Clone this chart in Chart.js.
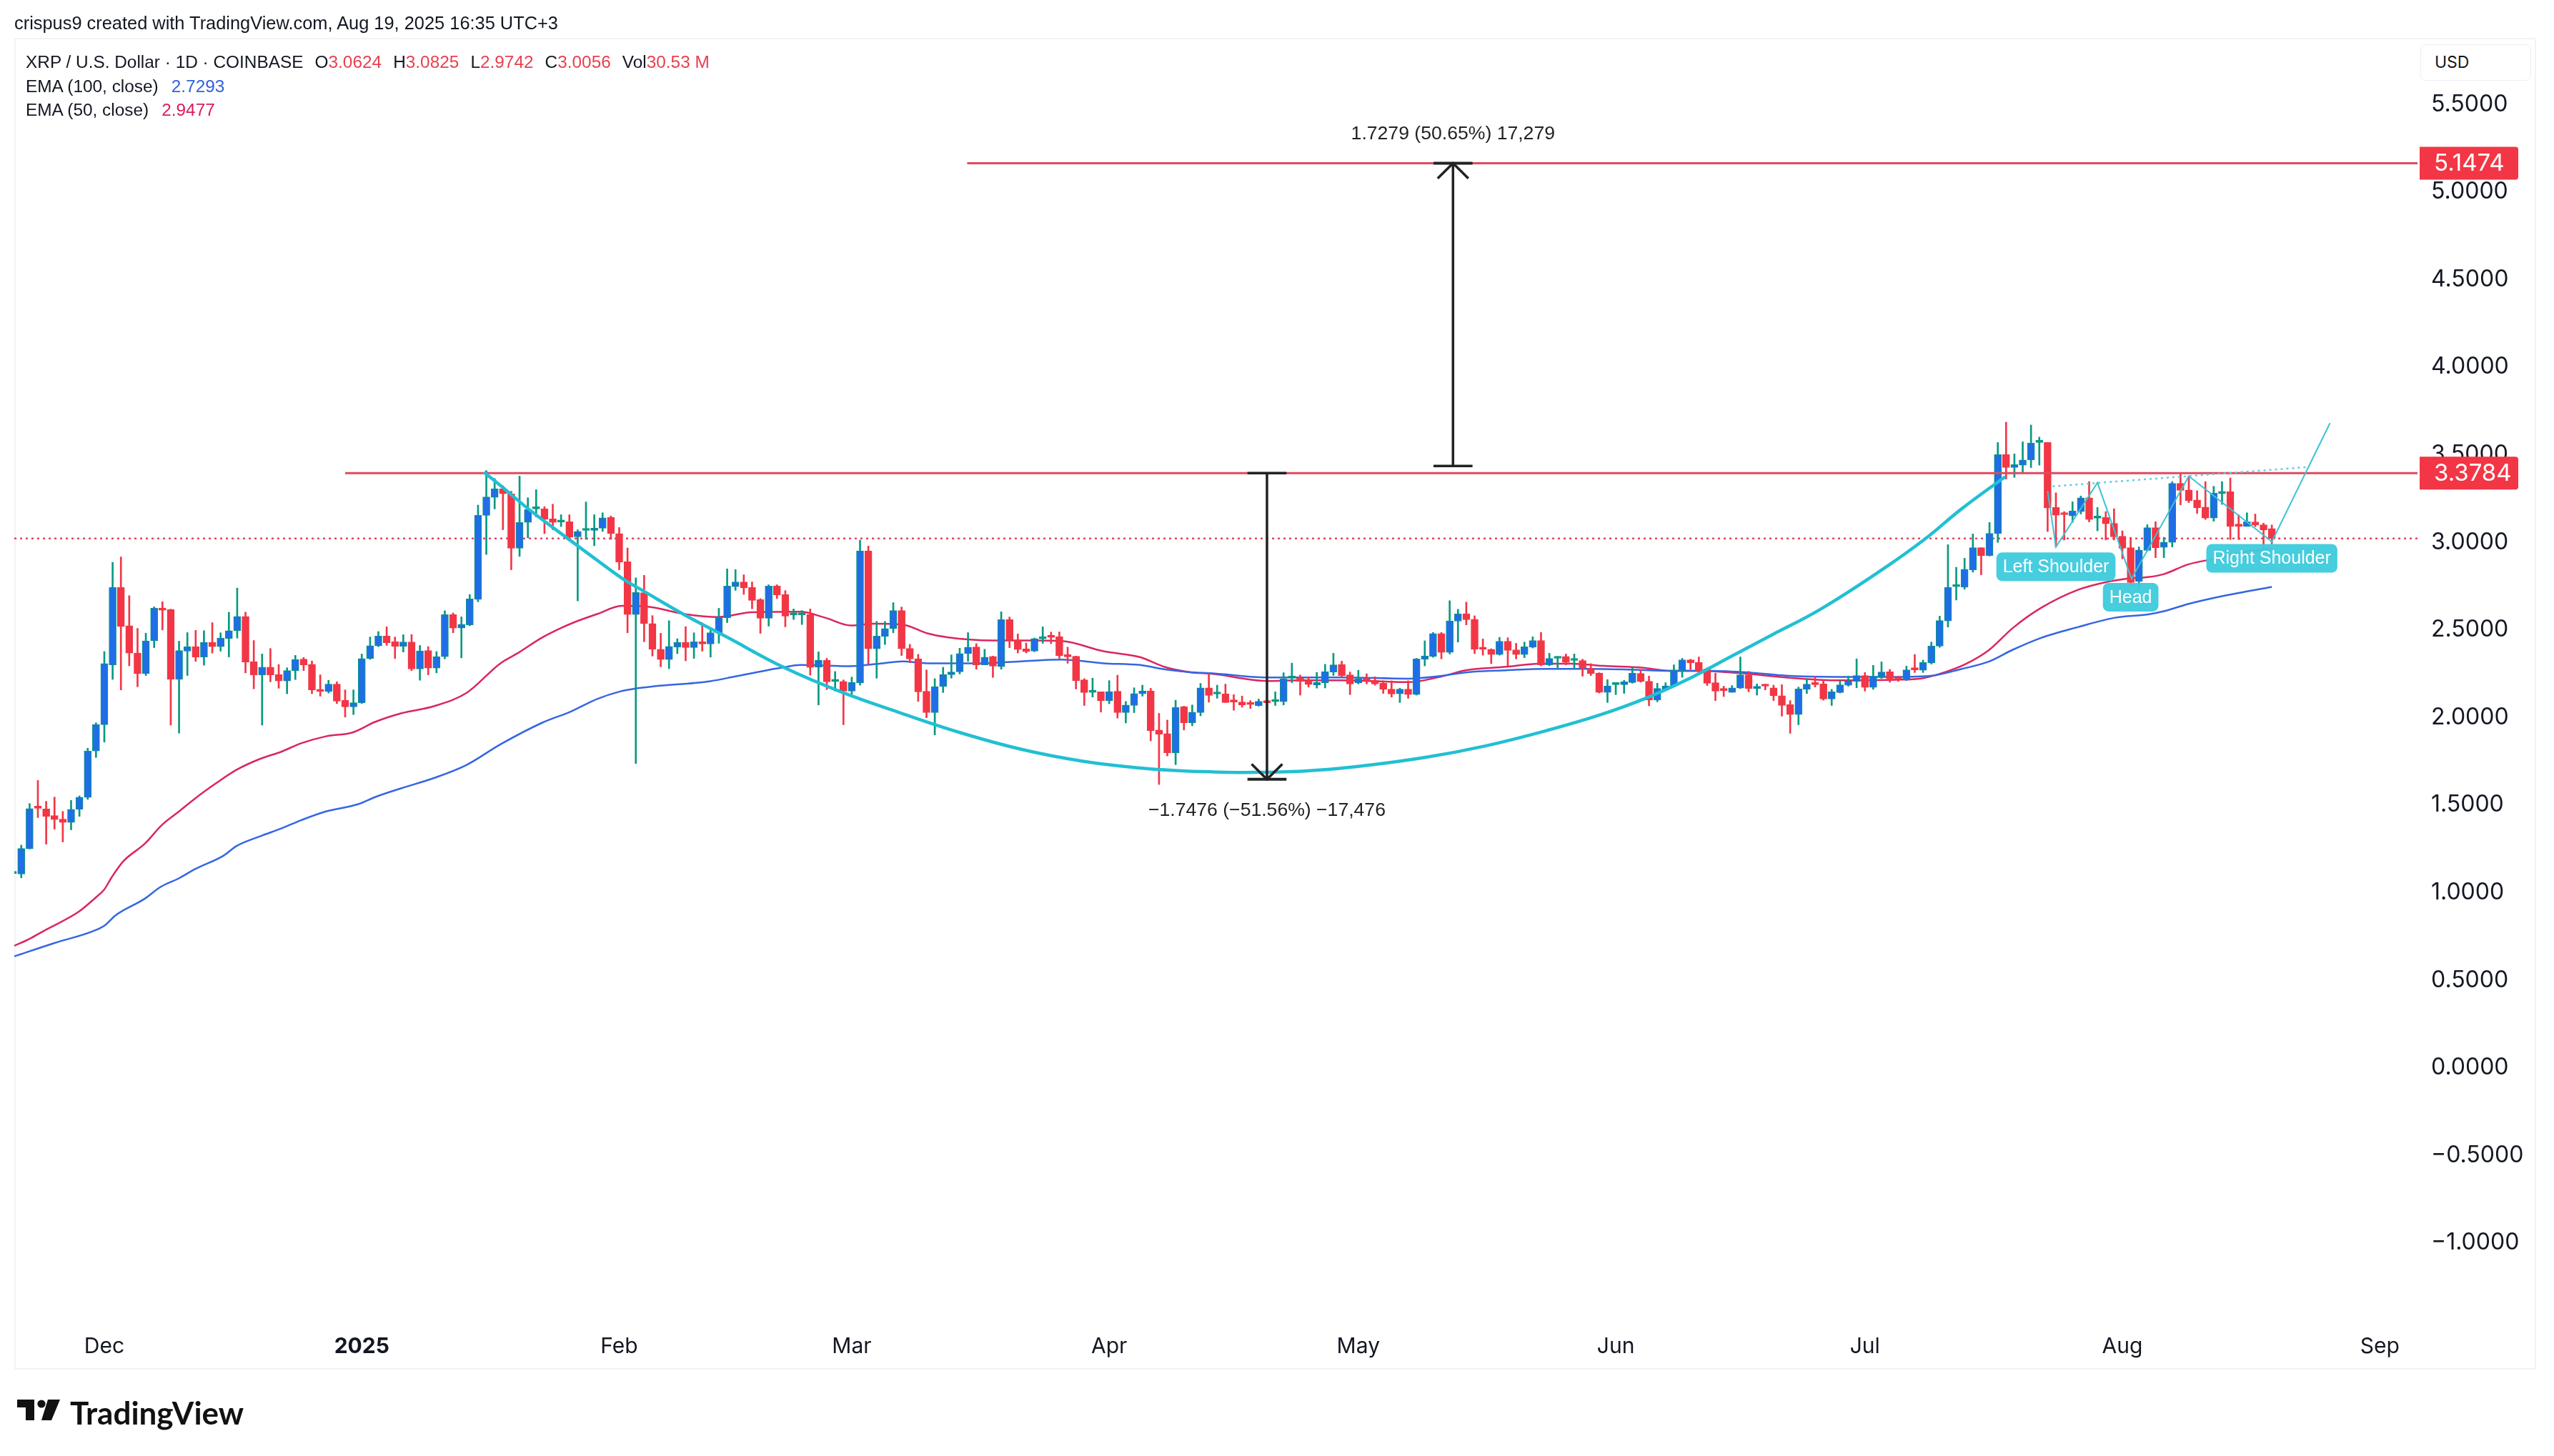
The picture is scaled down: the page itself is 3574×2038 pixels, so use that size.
<!DOCTYPE html>
<html>
<head>
<meta charset="utf-8">
<title>XRP / U.S. Dollar</title>
<script src="https://cdn.jsdelivr.net/npm/chart.js@4/dist/chart.umd.min.js"></script>
<style>
  html, body { margin: 0; padding: 0; background: #fff; }
  #page { position: relative; width: 3574px; height: 2038px; overflow: hidden; font-family: "Liberation Sans", sans-serif; color: #131722; }
  #frame { position: absolute; left: 20px; top: 53px; width: 3529px; height: 1864px; border: 2px solid #f2f3f5; box-sizing: border-box; }
  #wrap { position: absolute; left: 0; top: 0; width: 3574px; height: 2038px; }
  .row { position: absolute; white-space: nowrap; font-size: 24.4px; line-height: 30px; }
  .row b { font-weight: normal; color: #e8404f; }
  .gap { margin-left: 16px; }
  #usd { position: absolute; left: 3387px; top: 62px; width: 155px; height: 51px; border: 1px solid #eceef2; border-radius: 8px; box-sizing: border-box; font: 23px/49px Inter, sans-serif; padding-left: 19px; background: #fff; }
  #brand { position: absolute; left: 98px; top: 1952px; font: bold 44px/50px Lato, sans-serif; letter-spacing: 0; color: #111; }
  #mark { position: absolute; left: 24px; top: 1959px; }
</style>
</head>
<body>
<div id="page">
  <div id="frame"></div>
  <div id="wrap"><canvas id="chart"></canvas></div>
  <div class="row" style="left:20px;top:17px;font-size:25.4px">crispus9 created with TradingView.com, Aug 19, 2025 16:35 UTC+3</div>
  <div class="row" style="left:36px;top:72px">XRP / U.S. Dollar · 1D · COINBASE<span class="gap">O<b>3.0624</b></span><span class="gap">H<b>3.0825</b></span><span class="gap">L<b>2.9742</b></span><span class="gap">C<b>3.0056</b></span><span class="gap">Vol<b>30.53 M</b></span></div>
  <div class="row" style="left:36px;top:106px">EMA (100, close)<span class="gap" style="color:#2f62e0;margin-left:18px">2.7293</span></div>
  <div class="row" style="left:36px;top:139px">EMA (50, close)<span class="gap" style="color:#d81e5b;margin-left:18px">2.9477</span></div>
  <div id="usd">USD</div>
  <svg id="mark" width="60" height="29" viewBox="0 0 60 29"><path d="M0 0H24V29H12V11H0Z M43 0H60L48 29H34Z" fill="#111"/><circle cx="34" cy="6" r="5.6" fill="#111"/></svg>
  <div id="brand">TradingView</div>
</div>

<script>
// Daily candles, index 0 = Nov 20 2024, last = Aug 19 2025
const opens = [
    1.093,1.090,1.233,1.467,1.461,1.423,1.403,1.384,1.459,1.527,
    1.792,1.942,2.284,2.726,2.507,2.351,2.234,2.421,2.605,2.600,
    2.201,2.362,2.388,2.329,2.413,2.388,2.435,2.479,2.560,2.302,
    2.227,2.271,2.229,2.192,2.251,2.317,2.287,2.143,2.132,2.174,
    2.081,2.044,2.068,2.320,2.392,2.448,2.417,2.390,2.415,2.260,
    2.366,2.265,2.331,2.571,2.494,2.512,2.658,3.137,3.240,3.289,
    3.260,2.949,3.097,3.174,3.174,3.117,3.099,3.101,3.015,3.051,
    3.051,3.064,3.125,3.033,2.872,2.571,2.696,2.520,2.373,2.314,
    2.386,2.413,2.383,2.416,2.403,2.467,2.553,2.730,2.757,2.726,
    2.656,2.550,2.734,2.685,2.569,2.569,2.572,2.270,2.311,2.189,
    2.189,2.134,2.182,2.935,2.375,2.446,2.491,2.594,2.378,2.319,
    2.133,2.011,2.160,2.228,2.244,2.348,2.386,2.284,2.332,2.273,
    2.542,2.426,2.375,2.362,2.433,2.448,2.444,2.340,2.333,2.198,
    2.127,2.130,2.079,2.133,2.011,2.052,2.119,2.135,1.912,1.891,
    1.782,2.045,1.953,2.011,2.153,2.117,2.118,2.076,2.072,2.061,
    2.051,2.076,2.074,2.074,2.208,2.208,2.196,2.168,2.182,2.243,
    2.286,2.227,2.181,2.207,2.196,2.179,2.145,2.119,2.145,2.114,
    2.316,2.332,2.462,2.355,2.533,2.576,2.544,2.378,2.373,2.343,
    2.419,2.370,2.343,2.385,2.423,2.284,2.321,2.332,2.309,2.309,
    2.264,2.237,2.127,2.171,2.171,2.183,2.235,2.190,2.083,2.145,
    2.164,2.253,2.313,2.297,2.261,2.182,2.141,2.127,2.151,2.227,
    2.148,2.166,2.153,2.108,2.057,2.000,2.144,2.181,2.175,2.089,
    2.126,2.167,2.189,2.223,2.155,2.216,2.244,2.208,2.199,2.260,
    2.253,2.295,2.391,2.535,2.730,2.727,2.826,2.953,2.908,3.033,
    3.484,3.410,3.424,3.454,3.553,3.553,3.182,3.145,3.134,3.159,
    3.237,3.121,3.125,3.092,3.018,2.953,2.761,2.937,3.067,2.955,
    2.983,3.320,3.282,3.225,3.184,3.122,3.262,3.273,3.079,3.074,
    3.100,3.083,3.0624
];
const closes = [
    1.095,1.236,1.463,1.465,1.419,1.401,1.384,1.459,1.529,1.792,
    1.944,2.291,2.726,2.503,2.351,2.234,2.421,2.607,2.596,2.201,
    2.366,2.388,2.329,2.413,2.388,2.437,2.479,2.560,2.300,2.227,
    2.271,2.227,2.192,2.251,2.315,2.284,2.141,2.132,2.174,2.077,
    2.044,2.068,2.320,2.393,2.448,2.410,2.390,2.415,2.260,2.364,
    2.265,2.331,2.571,2.494,2.516,2.660,3.137,3.242,3.289,3.260,
    2.949,3.097,3.170,3.181,3.115,3.097,3.104,3.013,3.046,3.055,
    3.064,3.123,3.033,2.870,2.571,2.697,2.519,2.373,2.314,2.389,
    2.413,2.383,2.416,2.403,2.468,2.553,2.734,2.757,2.723,2.652,
    2.550,2.734,2.682,2.562,2.573,2.572,2.269,2.311,2.187,2.193,
    2.134,2.184,2.935,2.375,2.448,2.491,2.594,2.375,2.317,2.130,
    2.011,2.160,2.229,2.243,2.348,2.385,2.284,2.328,2.277,2.542,
    2.423,2.371,2.359,2.434,2.444,2.441,2.337,2.330,2.194,2.126,
    2.131,2.079,2.131,2.011,2.055,2.120,2.135,1.907,1.888,1.782,
    2.041,1.953,2.014,2.153,2.109,2.121,2.069,2.072,2.055,2.057,
    2.076,2.068,2.080,2.203,2.212,2.189,2.172,2.183,2.245,2.284,
    2.223,2.175,2.203,2.193,2.175,2.144,2.118,2.145,2.114,2.318,
    2.335,2.462,2.355,2.535,2.575,2.542,2.373,2.373,2.343,2.419,
    2.366,2.343,2.387,2.423,2.284,2.321,2.332,2.298,2.313,2.264,
    2.234,2.127,2.164,2.175,2.187,2.237,2.189,2.083,2.149,2.164,
    2.253,2.313,2.295,2.250,2.179,2.134,2.137,2.153,2.227,2.148,
    2.162,2.162,2.107,2.052,2.000,2.146,2.174,2.171,2.089,2.130,
    2.170,2.192,2.223,2.155,2.219,2.243,2.203,2.203,2.256,2.255,
    2.297,2.392,2.537,2.727,2.734,2.830,2.953,2.908,3.034,3.484,
    3.410,3.427,3.454,3.550,3.557,3.180,3.138,3.141,3.163,3.237,
    3.114,3.125,3.089,3.015,2.950,2.754,2.940,3.067,2.953,2.985,
    3.320,3.280,3.221,3.180,3.122,3.265,3.273,3.074,3.075,3.101,
    3.082,3.053,3.0056
];
const highs = [
    1.100,1.255,1.492,1.624,1.505,1.529,1.447,1.510,1.536,1.808,
    1.953,2.360,2.869,2.900,2.679,2.492,2.465,2.615,2.644,2.602,
    2.419,2.468,2.481,2.479,2.525,2.467,2.584,2.722,2.585,2.423,
    2.346,2.377,2.286,2.267,2.338,2.326,2.306,2.227,2.196,2.187,
    2.141,2.141,2.346,2.443,2.474,2.501,2.443,2.456,2.457,2.395,
    2.388,2.360,2.593,2.580,2.558,2.686,3.196,3.393,3.348,3.306,
    3.275,3.362,3.238,3.284,3.187,3.201,3.141,3.141,3.055,3.214,
    3.141,3.152,3.134,3.068,2.951,2.781,2.795,2.565,2.464,2.536,
    2.433,2.502,2.467,2.523,2.491,2.607,2.832,2.828,2.798,2.757,
    2.662,2.741,2.741,2.708,2.603,2.594,2.603,2.358,2.321,2.246,
    2.198,2.214,2.996,2.962,2.532,2.532,2.639,2.614,2.401,2.344,
    2.255,2.205,2.270,2.341,2.379,2.468,2.405,2.373,2.334,2.587,
    2.557,2.460,2.409,2.437,2.501,2.471,2.472,2.385,2.334,2.205,
    2.208,2.130,2.194,2.225,2.075,2.153,2.168,2.150,2.007,1.969,
    2.082,2.048,2.055,2.178,2.236,2.168,2.174,2.114,2.106,2.080,
    2.089,2.087,2.130,2.239,2.294,2.226,2.216,2.241,2.287,2.350,
    2.305,2.243,2.253,2.233,2.216,2.193,2.193,2.151,2.193,2.321,
    2.421,2.469,2.469,2.650,2.601,2.642,2.564,2.432,2.376,2.441,
    2.439,2.407,2.414,2.444,2.469,2.350,2.332,2.346,2.346,2.316,
    2.291,2.239,2.200,2.179,2.196,2.271,2.257,2.220,2.179,2.182,
    2.284,2.321,2.316,2.329,2.267,2.237,2.162,2.166,2.329,2.247,
    2.175,2.175,2.168,2.171,2.080,2.157,2.205,2.219,2.199,2.144,
    2.192,2.219,2.318,2.240,2.281,2.301,2.258,2.219,2.277,2.343,
    2.311,2.414,2.562,2.970,2.841,2.892,3.031,2.953,3.097,3.553,
    3.669,3.488,3.557,3.653,3.584,3.554,3.266,3.159,3.215,3.248,
    3.330,3.182,3.159,3.175,3.049,3.012,2.957,3.084,3.101,3.012,
    3.330,3.374,3.361,3.278,3.330,3.303,3.330,3.351,3.141,3.152,
    3.145,3.093,3.0825
];
const lows = [
    1.090,1.068,1.233,1.412,1.260,1.346,1.273,1.342,1.419,1.516,
    1.755,1.843,2.201,2.141,2.278,2.159,2.223,2.382,2.483,1.940,
    1.894,2.223,2.304,2.282,2.351,2.362,2.329,2.437,2.238,2.147,
    1.940,2.187,2.150,2.119,2.200,2.251,2.119,2.105,2.123,2.063,
    1.986,2.000,2.063,2.315,2.388,2.395,2.320,2.357,2.251,2.196,
    2.227,2.238,2.318,2.467,2.324,2.507,2.644,2.914,3.174,3.055,
    2.827,2.903,3.009,3.128,3.033,3.055,3.073,3.009,2.649,3.000,
    2.964,3.046,3.000,2.827,2.467,1.721,2.416,2.334,2.273,2.262,
    2.348,2.307,2.321,2.362,2.328,2.407,2.525,2.709,2.686,2.604,
    2.464,2.505,2.662,2.501,2.543,2.514,2.225,2.055,2.143,2.134,
    1.942,2.116,2.168,2.287,2.208,2.400,2.467,2.337,2.296,2.075,
    1.982,1.884,2.126,2.208,2.232,2.304,2.259,2.284,2.212,2.259,
    2.382,2.352,2.352,2.359,2.407,2.405,2.321,2.293,2.146,2.052,
    2.100,2.014,2.062,1.980,1.952,2.011,2.105,1.850,1.601,1.764,
    1.714,1.912,1.936,1.993,2.071,2.093,2.069,2.025,2.042,2.035,
    2.048,2.029,2.052,2.055,2.182,2.111,2.157,2.151,2.152,2.223,
    2.213,2.114,2.175,2.175,2.168,2.121,2.100,2.069,2.093,2.111,
    2.278,2.327,2.318,2.346,2.414,2.512,2.348,2.339,2.291,2.339,
    2.278,2.318,2.325,2.380,2.278,2.278,2.260,2.284,2.260,2.219,
    2.223,2.123,2.069,2.114,2.121,2.179,2.185,2.050,2.073,2.141,
    2.162,2.213,2.257,2.243,2.166,2.080,2.103,2.127,2.148,2.130,
    2.111,2.141,2.080,1.991,1.893,1.942,2.120,2.157,2.082,2.052,
    2.123,2.162,2.153,2.134,2.144,2.206,2.185,2.189,2.194,2.240,
    2.240,2.288,2.384,2.500,2.654,2.716,2.813,2.798,2.905,2.983,
    3.344,3.354,3.385,3.410,3.424,3.045,2.957,2.997,3.097,3.145,
    3.100,3.049,2.997,2.997,2.889,2.732,2.720,2.933,2.896,2.896,
    2.957,3.197,3.210,3.148,3.114,3.104,3.200,2.999,2.999,3.074,
    3.073,2.939,2.9742
];

// Moving averages, read at irregular days
const ema50Days = [0.16,2,3.7,7.9,9.9,11,11.9,13.3,15.9,17.9,20,21.9,24.4,26.9,29.8,32.3,34.7,37.7,40.9,43.6,46.8,50.7,54.6,58.7,60.8,63.5,65.7,67.7,70.4,73.3,76.3,81,85,88.9,94.8,97.8,100.9,103.7,107.1,110.1,112.5,118,122.9,126.3,131.3,135.7,138.6,141.6,144.5,151,155.2,160.1,168,171.9,174.9,179.8,183.8,187.7,191.6,196.1,199.5,203,207.9,213.5,219.3,226.7,229.8,232.5,235.1,237.9,240.8,244.1,248.7,252.2,254.4,257.1,259,261.9,265.4,268.5,272];
const ema50Values = [0.68,0.72,0.765,0.874,0.953,1.002,1.072,1.163,1.264,1.368,1.447,1.520,1.606,1.684,1.748,1.788,1.836,1.876,1.898,1.958,2.008,2.048,2.123,2.293,2.351,2.434,2.488,2.529,2.575,2.621,2.617,2.573,2.557,2.584,2.587,2.553,2.509,2.519,2.514,2.464,2.441,2.423,2.423,2.420,2.362,2.328,2.273,2.243,2.232,2.192,2.196,2.196,2.185,2.216,2.253,2.273,2.291,2.291,2.278,2.268,2.250,2.250,2.237,2.212,2.196,2.199,2.206,2.240,2.288,2.367,2.494,2.606,2.713,2.758,2.775,2.785,2.802,2.857,2.892,2.926,2.9477];
const ema100Days = [0.16,5,9.7,11.1,12.3,15.8,17.8,20,21.9,25.4,26.9,29.8,32.3,34.7,37.7,41.6,43.6,46.8,50.7,54.6,58.7,63.7,67.2,70.4,73.1,75.1,77.1,84,87,92.8,94.8,97.8,100.7,104.7,107.1,110.1,116.5,121.4,126.3,131.3,135.7,138.6,141.6,144.5,151,155.2,160.1,168,171.9,174.9,179.8,184.7,189.7,194.6,199.5,204.4,209.4,213.5,219.3,226.7,231.1,234.6,237.9,240.8,244.1,248.7,253.1,257.1,259,261.9,266.3,272];
const ema100Values = [0.62,0.696,0.765,0.798,0.852,0.947,1.017,1.066,1.117,1.196,1.249,1.306,1.350,1.397,1.447,1.489,1.529,1.580,1.638,1.712,1.830,1.953,2.018,2.090,2.132,2.150,2.161,2.191,2.218,2.270,2.283,2.280,2.276,2.293,2.304,2.293,2.293,2.304,2.314,2.293,2.283,2.259,2.243,2.235,2.212,2.212,2.212,2.205,2.220,2.241,2.253,2.261,2.261,2.257,2.250,2.250,2.239,2.222,2.215,2.215,2.222,2.260,2.302,2.370,2.436,2.500,2.553,2.572,2.590,2.631,2.679,2.7293];

// Hand-drawn cup curve
const cupDays = [56.7,59.3,62.3,66.7,70.6,73.6,75.5,81,85.9,92.8,99.7,106.6,114,121.4,128.8,136.2,140.4,144.5,148.3,155.2,161.6,170,177.3,184.7,191.1,196.6,202,206.9,211.8,217.6,225,230.2,234.6,239.9];
const cupValues = [3.384,3.284,3.165,3.009,2.872,2.77,2.717,2.566,2.444,2.270,2.130,2.014,1.898,1.802,1.734,1.693,1.680,1.673,1.670,1.677,1.702,1.755,1.821,1.909,1.998,2.093,2.209,2.332,2.455,2.60,2.825,3.001,3.173,3.358];

// Head and shoulders zigzag and its neckline
const zigzagDays = [245,246,251,255.1,262,272,279];
const zigzagValues = [3.276,2.957,3.324,2.775,3.361,2.987,3.664];
const necklineDays = [245.6,276.3];
const necklineValues = [3.303,3.413];

// Horizontal levels
const resistance = 3.3784, resistanceStart = 40;
const target = 5.1474, targetStart = 114.9;
const lastClose = 3.0056;

// Measure arrows: day, far end, near end
const dropDay = 151, dropTop = 3.3784, dropBottom = 1.6308;
const riseDay = 173.4, riseBottom = 3.4195, riseTop = 5.1474;

// Axes
const xMin = 0.16, xMax = 289.54;
const yTicks = [5.5,5,4.5,4,3.5,3,2.5,2,1.5,1,0.5,0,-0.5,-1];
const monthDays = [11,42,73,101,132,162,193,223,254,285];
const monthLabels = ['Dec','2025','Feb','Mar','Apr','May','Jun','Jul','Aug','Sep'];

// Text notes
const priceTags = [5.1474,3.3784];
const noteTexts = ['Left Shoulder','Head','Right Shoulder'];
const noteDays = [246,255,272];
const notePrices = [2.844,2.67,2.892];
const measureTexts = ['1.7279 (50.65%) 17,279','\u22121.7476 (\u221251.56%) \u221217,476'];
const measureDays = [173.4,151];
const measurePrices = [5.316,1.451];

const UP_BODY = '#1f6ee6', UP_LINE = '#089981', DOWN = '#f23645';

function pts(days, values) {
    return days.map((d, i) => ({x: d, y: values[i]}));
}

function lineSet(data, color, width, order, extra) {
    return Object.assign({type: 'line', data: data, borderColor: color, borderWidth: width,
        pointRadius: 0, order: order, fill: false, tension: 0}, extra || {});
}

const isUp = closes.map((c, i) => c >= opens[i]);
const tiny = closes.map((c, i) => Math.abs(c - opens[i]) < 0.012);
const INK = '#222';

const datasets = [
    // Averages sit under the candles
    lineSet(pts(ema50Days, ema50Values), '#d9275f', 2.5, 9, {cubicInterpolationMode: 'monotone'}),
    lineSet(pts(ema100Days, ema100Values), '#3566e2', 2.5, 8, {cubicInterpolationMode: 'monotone'}),
    lineSet(pts([xMin, xMax], [lastClose, lastClose]), '#e2485c', 2.5, 7, {borderDash: [3, 5]}),
    {
        type: 'bar',
        data: lows.map((l, i) => ({x: i, y: [l, highs[i]]})),
        backgroundColor: isUp.map(u => u ? UP_LINE : DOWN),
        barThickness: 2, grouped: false, order: 6
    },
    {
        type: 'bar',
        data: opens.map((o, i) => ({x: i, y: [o, closes[i]]})),
        backgroundColor: isUp.map((u, i) => tiny[i] ? (u ? UP_LINE : DOWN) : (u ? UP_BODY : DOWN)),
        borderColor: isUp.map(u => u ? UP_LINE : DOWN),
        borderWidth: 1, borderSkipped: false, barThickness: 10, minBarLength: 3, grouped: false, order: 5
    },
    lineSet(pts([resistanceStart, xMax], [resistance, resistance]), '#dd4a60', 3, 4),
    lineSet(pts([targetStart, xMax], [target, target]), '#dd4a60', 3, 4),
    lineSet(pts(cupDays, cupValues), '#22bfd3', 4.5, 3, {tension: 0.4}),
    lineSet(pts(zigzagDays, zigzagValues), '#3cc3d4', 2, 2),
    lineSet(pts(necklineDays, necklineValues), '#5fd0de', 2.5, 2, {borderDash: [3, 5]}),
    // Measure tools
    lineSet(pts([dropDay, dropDay], [dropTop, dropBottom]), INK, 3.5, 1),
    lineSet(pts([dropDay - 2.35, dropDay + 2.35], [dropTop, dropTop]), INK, 3.5, 1),
    lineSet(pts([dropDay - 2.35, dropDay + 2.35], [dropBottom, dropBottom]), INK, 4, 1),
    lineSet(pts([dropDay - 1.85, dropDay, dropDay + 1.85], [dropBottom + 0.087, dropBottom, dropBottom + 0.087]), INK, 3.5, 1),
    lineSet(pts([riseDay, riseDay], [riseBottom, riseTop]), INK, 3.5, 1),
    lineSet(pts([riseDay - 2.35, riseDay + 2.35], [riseBottom, riseBottom]), INK, 3.5, 1),
    lineSet(pts([riseDay - 2.35, riseDay + 2.35], [riseTop, riseTop]), INK, 4, 1),
    lineSet(pts([riseDay - 1.85, riseDay, riseDay + 1.85], [riseTop - 0.087, riseTop, riseTop - 0.087]), INK, 3.5, 1)
];

// Text boxes and price tags, placed through the scales
const notesPlugin = {
    id: 'notes',
    afterDraw(chart) {
        const ctx = chart.ctx, xs = chart.scales.x, ys = chart.scales.y;
        ctx.save();
        ctx.textAlign = 'center';
        ctx.textBaseline = 'middle';

        ctx.font = '25px "Liberation Sans", sans-serif';
        noteTexts.forEach((t, i) => {
            const cx = xs.getPixelForValue(noteDays[i]), cy = ys.getPixelForValue(notePrices[i]);
            const w = ctx.measureText(t).width + 18;
            ctx.fillStyle = 'rgba(62,203,221,0.96)';
            ctx.beginPath();
            ctx.roundRect(cx - w / 2, cy - 20, w, 40, 8);
            ctx.fill();
            ctx.fillStyle = '#fff';
            ctx.fillText(t, cx, cy + 1);
        });

        ctx.fillStyle = '#222';
        ctx.font = '26.6px "Liberation Sans", sans-serif';
        measureTexts.forEach((t, i) => {
            ctx.fillText(t, xs.getPixelForValue(measureDays[i]), ys.getPixelForValue(measurePrices[i]));
        });

        ctx.font = '33px Inter, sans-serif';
        ctx.textAlign = 'left';
        priceTags.forEach(p => {
            const cy = ys.getPixelForValue(p);
            ctx.fillStyle = DOWN;
            ctx.beginPath();
            ctx.roundRect(xs.right + 3, cy - 23, 138, 46, [0, 4, 4, 0]);
            ctx.fill();
            ctx.fillStyle = '#fff';
            ctx.fillText(p.toFixed(4), xs.right + 23, cy + 1);
        });
        ctx.restore();
    }
};

Chart.defaults.devicePixelRatio = 1;

new Chart(document.getElementById('chart').getContext('2d'), {
    type: 'bar',
    data: {datasets: datasets},
    plugins: [notesPlugin],
    options: {
        responsive: true,
        maintainAspectRatio: false,
        devicePixelRatio: 1,
        animation: false,
        layout: {padding: {left: 20, top: 56, right: 0, bottom: 121}},
        plugins: {legend: {display: false}, tooltip: {enabled: false}},
        scales: {
            x: {
                type: 'linear',
                offset: false,
                min: xMin,
                max: xMax,
                grid: {display: false},
                border: {display: false},
                afterFit: s => { s.height = 64; },
                afterBuildTicks: s => { s.ticks = monthDays.map(v => ({value: v})); },
                ticks: {
                    autoSkip: false,
                    maxRotation: 0,
                    padding: 6,
                    color: '#131722',
                    font: c => ({family: 'Inter', size: 30, weight: c.tick && c.tick.value === 42 ? 'bold' : 'normal'}),
                    callback: v => monthLabels[monthDays.indexOf(v)]
                }
            },
            y: {
                position: 'right',
                min: -1.478,
                max: 5.851,
                grid: {display: false, drawTicks: false},
                border: {display: false},
                afterFit: s => { s.width = 191; },
                afterBuildTicks: s => { s.ticks = yTicks.map(v => ({value: v})); },
                ticks: {
                    autoSkip: false,
                    padding: 19,
                    labelOffset: 4,
                    color: '#131722',
                    font: {family: 'Inter', size: 32},
                    callback: v => (v < 0 ? '\u2212' : '') + Math.abs(v).toFixed(4)
                }
            }
        }
    }
});
</script>
</body>
</html>
